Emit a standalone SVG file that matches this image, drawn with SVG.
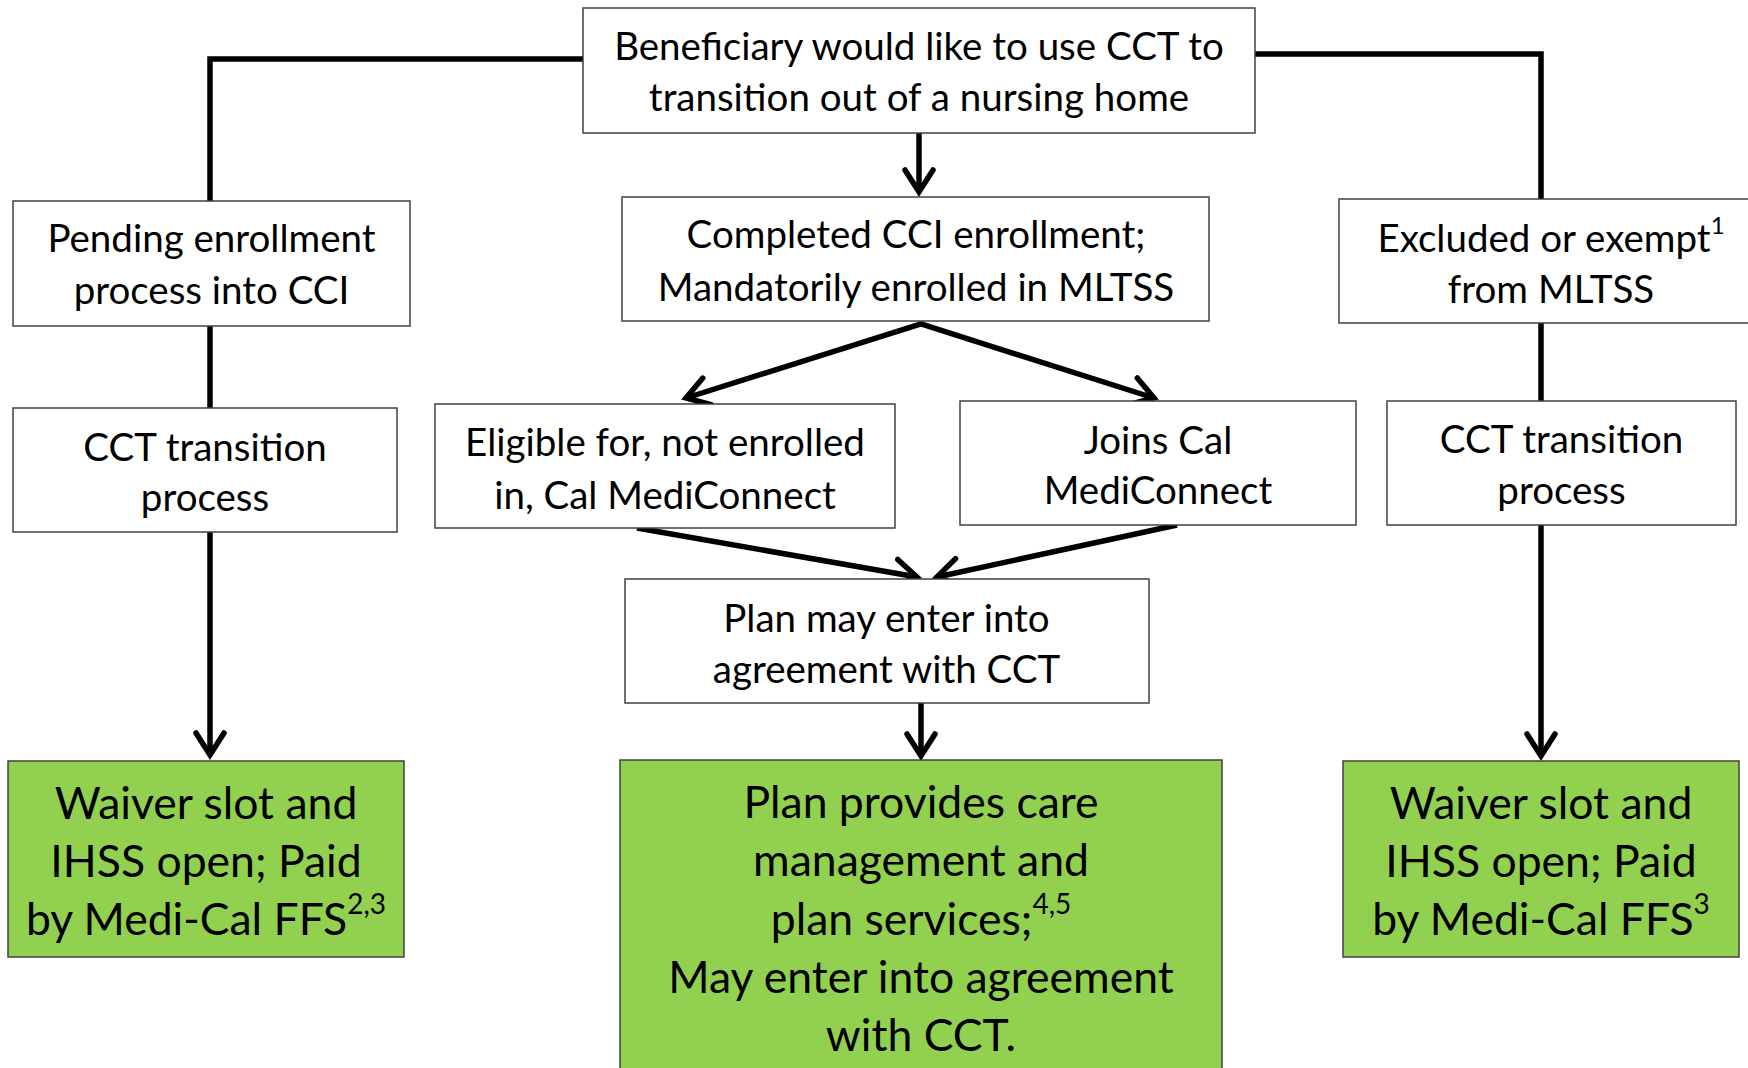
<svg xmlns="http://www.w3.org/2000/svg" width="1748" height="1068" viewBox="0 0 1748 1068">
<style>
.box{fill:#ffffff;stroke:#404040;stroke-width:1.5}
.grn{fill:#92D050;stroke:#404040;stroke-width:1.5}
.t{font-family:Lato,"Open Sans","Liberation Sans",sans-serif;font-size:38.5px;fill:#000;text-anchor:middle}
.tg{font-family:Lato,"Open Sans","Liberation Sans",sans-serif;font-size:44.5px;fill:#000;text-anchor:middle}
.sup{font-size:24px}
.supg{font-size:28px}
.c{fill:none;stroke:#000;stroke-width:5.5}
</style>
<defs>
<marker id="arr" markerUnits="userSpaceOnUse" viewBox="-30 -20 40 40" refX="0" refY="0" markerWidth="40" markerHeight="40" orient="auto-start-reverse" overflow="visible">
<path d="M-22,-14 L0,0 L-22,14" fill="none" stroke="#000" stroke-width="5.5" stroke-linecap="round"/>
</marker>
</defs>
<rect width="1748" height="1068" fill="#ffffff"/>
<g id="connectors">
<path class="c" d="M583,59 H210 V201"/>
<path class="c" d="M1255,54 H1541 V199"/>
<path class="c" d="M919,133 V192" marker-end="url(#arr)"/>
<path class="c" d="M210,326 V408"/>
<path class="c" d="M210,532 V755" marker-end="url(#arr)"/>
<path class="c" d="M686,398 L921,324 L1154,398" marker-start="url(#arr)" marker-end="url(#arr)"/>
<path class="c" d="M637,528 L917,577" marker-end="url(#arr)"/>
<path class="c" d="M1177,525 L937,577" marker-end="url(#arr)"/>
<path class="c" d="M921,703 V756" marker-end="url(#arr)"/>
<path class="c" d="M1541,323 V401"/>
<path class="c" d="M1541,525 V756" marker-end="url(#arr)"/>
</g>
<g id="n-top">
<rect class="box" x="583" y="8" width="672" height="125"/>
<text class="t" x="919" y="60">Beneficiary would like to use CCT to</text>
<text class="t" x="919" y="111">transition out of a nursing home</text>
</g>
<g id="n-pending">
<rect class="box" x="13" y="201" width="397" height="125"/>
<text class="t" x="211.5" y="252">Pending enrollment</text>
<text class="t" x="211.5" y="304">process into CCI</text>
</g>
<g id="n-completed">
<rect class="box" x="622" y="197" width="587" height="124"/>
<text class="t" x="916" y="248">Completed CCI enrollment;</text>
<text class="t" x="916" y="301">Mandatorily enrolled in MLTSS</text>
</g>
<g id="n-excluded">
<rect class="box" x="1339" y="199" width="425" height="124"/>
<text class="t" x="1551" y="252">Excluded or exempt<tspan class="sup" dy="-18">1</tspan></text>
<text class="t" x="1551" y="303">from MLTSS</text>
</g>
<g id="n-cct-left">
<rect class="box" x="13" y="408" width="384" height="124"/>
<text class="t" x="205" y="461">CCT transition</text>
<text class="t" x="205" y="511">process</text>
</g>
<g id="n-eligible">
<rect class="box" x="435" y="404" width="460" height="124"/>
<text class="t" x="665" y="456">Eligible for, not enrolled</text>
<text class="t" x="665" y="509">in, Cal MediConnect</text>
</g>
<g id="n-joins">
<rect class="box" x="960" y="401" width="396" height="124"/>
<text class="t" x="1158" y="454">Joins Cal</text>
<text class="t" x="1158" y="504">MediConnect</text>
</g>
<g id="n-cct-right">
<rect class="box" x="1387" y="401" width="349" height="124"/>
<text class="t" x="1561.5" y="453">CCT transition</text>
<text class="t" x="1561.5" y="504">process</text>
</g>
<g id="n-plan-may">
<rect class="box" x="625" y="579" width="524" height="124"/>
<text class="t" x="886.5" y="632">Plan may enter into</text>
<text class="t" x="886.5" y="683">agreement with CCT</text>
</g>
<g id="n-green-left">
<rect class="grn" x="8" y="761" width="396" height="196"/>
<text class="tg" x="206" y="819">Waiver slot and</text>
<text class="tg" x="206" y="877">IHSS open; Paid</text>
<text class="tg" x="206" y="935">by Medi-Cal FFS<tspan class="supg" dy="-21">2,3</tspan></text>
</g>
<g id="n-green-mid">
<rect class="grn" x="620" y="760" width="602" height="320"/>
<text class="tg" x="921" y="818">Plan provides care</text>
<text class="tg" x="921" y="876">management and</text>
<text class="tg" x="921" y="935">plan services;<tspan class="supg" dy="-21">4,5</tspan></text>
<text class="tg" x="921" y="993">May enter into agreement</text>
<text class="tg" x="921" y="1051">with CCT.</text>
</g>
<g id="n-green-right">
<rect class="grn" x="1343" y="761" width="396" height="196"/>
<text class="tg" x="1541" y="819">Waiver slot and</text>
<text class="tg" x="1541" y="877">IHSS open; Paid</text>
<text class="tg" x="1541" y="935">by Medi-Cal FFS<tspan class="supg" dy="-21">3</tspan></text>
</g>
</svg>
